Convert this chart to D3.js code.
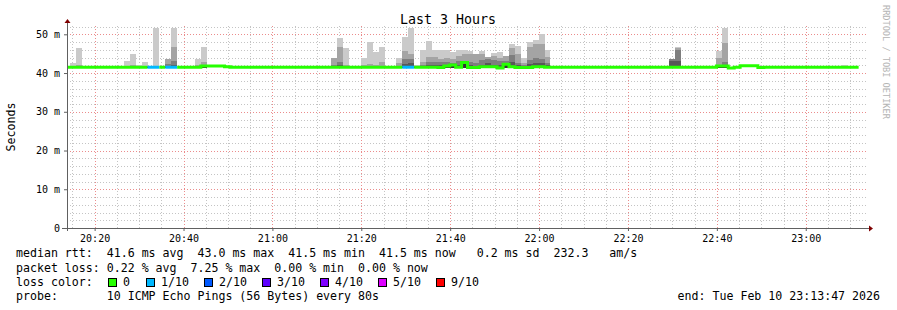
<!DOCTYPE html>
<html>
<head>
<meta charset="utf-8">
<script src="https://cdn.jsdelivr.net/npm/d3@7"></script>
<style>
  body { margin: 0; background: #fff; }
  svg text { font-family: "DejaVu Sans Mono", monospace; white-space: pre; }
</style>
</head>
<body>
<div id="chart"></div>
<script>
// time window of the graph, rrd step is 80s
var startTime = new Date(2026, 1, 10, 20, 13, 47);
var endTime = new Date(2026, 1, 10, 23, 13, 47);
var firstStep = new Date(2026, 1, 10, 20, 13, 14);
var stepSec = 80;

// median rtt per step (ms)
var medianMs = [
  41.5, 41.5, 41.5, 41.5, 41.5, 41.5, 41.5, 41.5, 41.5, 41.5,
  41.5, 41.5, 41.5, 41.5, 41.5, 41.5, 41.5, 41.5, 41.5, 41.5,
  41.5, 41.5, 41.5, 41.8, 41.8, 41.8, 41.8, 41.6, 41.5, 41.5,
  41.5, 41.5, 41.5, 41.5, 41.5, 41.5, 41.5, 41.5, 41.5, 41.5,
  41.5, 41.5, 41.5, 41.5, 41.5, 41.5, 41.5, 41.5, 41.5, 41.5,
  41.5, 41.5, 41.5, 41.5, 41.5, 41.5, 41.5, 41.5, 41.5, 41.5,
  41.5, 41.5, 41.5, 41.4, 41.8, 42.1, 41.5, 42.7, 41.4, 41.4,
  41.6, 41.6, 41.6, 41.3, 42.3, 41.6, 41.4, 41.4, 41.4, 41.6,
  41.6, 41.5, 41.5, 41.5, 41.5, 41.5, 41.5, 41.5, 41.5, 41.5,
  41.5, 41.5, 41.5, 41.5, 41.5, 41.5, 41.5, 41.5, 41.5, 41.5,
  41.5, 41.5, 41.5, 41.5, 41.5, 41.5, 41.5, 41.5, 41.5, 41.5,
  41.8, 41.8, 41.3, 41.5, 41.9, 41.9, 41.9, 41.4, 41.5, 41.5,
  41.5, 41.5, 41.5, 41.5, 41.5, 41.5, 41.5, 41.5, 41.5, 41.5,
  41.5, 41.5, 41.5, 41.5
];

// steps with lost pings (tenths lost)
var lossSteps = [14, 15, 17, 18, 57, 58];
var lossTenths = [1, 1, 1, 1, 1, 1];

// steps with visible smoke and the upper sorted pings (ms)
var smokeSteps = [1, 2, 10, 11, 12, 13, 15, 17, 18, 22, 23,
  45, 46, 47, 50, 51, 52, 53,
  56, 57, 58, 59, 60, 61, 62, 63, 64, 65, 66, 67, 68, 69, 70, 71, 72, 73, 74, 75, 76, 77, 78, 79, 80, 81,
  102, 103, 110, 111, 131];
var ping10 = [42.6, 46.5, 43.1, 44.9, 42.2, 42.8, 51.6, 43.6, 51.6, 43.6, 46.7,
  43.9, 49.1, 46.5, 43.9, 48.0, 45.4, 46.7,
  43.9, 49.3, 51.6, 42.2, 45.9, 48.3, 45.9, 45.9, 45.9, 45.4, 45.9, 45.9, 45.7, 45.0, 45.7, 44.1, 45.1, 45.4, 44.5, 47.5, 47.0, 43.9, 48.0, 48.5, 50.1, 45.9,
  43.7, 46.7, 45.7, 51.6, 42.0];
var ping9 = [41.9, 42.0, 41.8, 42.0, 41.8, 41.9, 41.9, 43.6, 46.7, 42.1, 42.8,
  43.9, 46.7, 42.2, 42.0, 42.3, 42.0, 42.8,
  42.5, 45.7, 44.9, 41.8, 42.8, 44.1, 44.1, 43.7, 43.9, 43.7, 44.5, 45.0, 45.0, 45.0, 45.0, 44.1, 44.5, 43.9, 44.5, 46.5, 44.9, 42.5, 46.7, 47.5, 47.5, 44.1,
  43.6, 46.4, 43.9, 47.8, 41.7];
var ping8 = [41.7, 41.8, 41.7, 41.8, 41.7, 41.7, 41.7, 42.3, 43.1, 41.8, 42.0,
  42.2, 42.8, 41.8, 41.8, 41.9, 41.8, 41.9,
  41.9, 43.5, 43.5, 41.7, 42.0, 42.8, 42.8, 42.8, 42.9, 42.6, 43.0, 43.0, 42.8, 42.5, 43.3, 43.5, 43.3, 43.0, 43.2, 44.6, 42.6, 42.0, 43.3, 43.9, 43.7, 42.6,
  43.5, 46.0, 42.1, 42.8, 41.6];
var ping7 = [41.6, 41.6, 41.6, 41.6, 41.6, 41.6, 41.6, 41.8, 42.0, 41.6, 41.8,
  41.8, 42.0, 41.6, 41.6, 41.7, 41.6, 41.7,
  41.7, 42.3, 42.5, 41.6, 41.7, 42.0, 42.0, 42.0, 42.1, 42.0, 42.2, 42.8, 42.0, 41.9, 42.2, 42.5, 42.2, 42.2, 42.4, 42.8, 42.0, 41.8, 42.3, 42.5, 42.5, 42.0,
  43.1, 43.1, 41.9, 42.2, 41.6];
var pingFloor = 41.3;

var yTicks = [0, 10, 20, 30, 40, 50];
var lossLabels = ["0", "1/10", "2/10", "3/10", "4/10", "5/10", "9/10"];
var lossColors = ["#26ff00", "#00b8ff", "#0059ff", "#5e00ff", "#7e00ff", "#dd00ff", "#ff0000"];
var lossLevels = [0, 1, 2, 3, 4, 5, 9];
var smokeColors = ["#cacaca", "#a4a4a4", "#7e7e7e", "#585858", "#323232"];

var legendLines = [
  "median rtt:  41.6 ms avg  43.0 ms max  41.5 ms min  41.5 ms now   0.2 ms sd  232.3   am/s",
  "packet loss: 0.22 % avg  7.25 % max  0.00 % min  0.00 % now",
  "loss color:",
  "probe:       10 ICMP Echo Pings (56 Bytes) every 80s"
];
var endLabel = "end: Tue Feb 10 23:13:47 2026";

// canvas geometry
var W = 897, H = 310;
var margin = { top: 25, left: 67 },
  plotW = 800, plotH = 203;

var svg = d3.select("#chart").append("svg")
  .attr("width", W).attr("height", H)
  .style("display", "block");

svg.append("rect").attr("width", W).attr("height", H).attr("fill", "#fff");

var g = svg.append("g").attr("transform", "translate(" + margin.left + "," + margin.top + ")");

var x = d3.scaleTime().domain([startTime, endTime]).range([0, plotW]);
var y = d3.scaleLinear().domain([0, 52.4]).range([plotH, 0]);

// grid: minor then major
function grid(axis, color) {
  var gg = g.append("g").call(axis);
  gg.select(".domain").remove();
  gg.selectAll("line")
    .attr("stroke", color)
    .attr("stroke-dasharray", "1,2")
    .attr("shape-rendering", "crispEdges");
  return gg;
}
grid(d3.axisBottom(x).ticks(d3.timeMinute.every(5)).tickSize(-plotH).tickFormat(""), "#c4c4c4")
  .attr("transform", "translate(0," + plotH + ")");
grid(d3.axisLeft(y).tickValues(d3.range(2, 53, 2)).tickSize(-plotW).tickFormat(""), "#c4c4c4");
grid(d3.axisBottom(x).ticks(d3.timeMinute.every(20)).tickSize(-plotH).tickFormat(""), "#eb8c8c")
  .attr("transform", "translate(0," + plotH + ")");
grid(d3.axisLeft(y).tickValues(yTicks.slice(1)).tickSize(-plotW).tickFormat(""), "#eb8c8c");

// clip for data
svg.append("clipPath").attr("id", "plotclip")
  .append("rect").attr("width", plotW).attr("height", plotH);
var data = g.append("g").attr("clip-path", "url(#plotclip)");

function stepTime(i) { return new Date(firstStep.getTime() + i * stepSec * 1000); }

// smoke bands, outer band first
smokeSteps.forEach(function (s, j) {
  var tops = [ping10[j], ping9[j], ping8[j], ping7[j], medianMs[s]];
  var x0 = x(stepTime(s)), x1 = x(stepTime(s + 1));
  tops.forEach(function (t, b) {
    if (t <= pingFloor) return;
    data.append("rect")
      .attr("x", x0).attr("width", x1 - x0)
      .attr("y", y(t)).attr("height", y(pingFloor) - y(t))
      .attr("fill", smokeColors[b])
      .attr("shape-rendering", "crispEdges");
  });
});

// median line coloured by loss
function lossOf(i) {
  var p = lossSteps.indexOf(i);
  return p < 0 ? 0 : lossTenths[p];
}
var runs = [];
medianMs.forEach(function (m, i) {
  var l = lossOf(i);
  if (!runs.length || runs[runs.length - 1].loss !== l) runs.push({ loss: l, pts: [] });
  runs[runs.length - 1].pts.push([stepTime(i), m]);
});
runs.forEach(function (r) {
  var last = r.pts[r.pts.length - 1];
  var pts = r.pts.concat([[new Date(last[0].getTime() + stepSec * 1000), last[1]]]);
  data.append("path")
    .attr("d", d3.line().x(function (d) { return x(d[0]); }).y(function (d) { return y(d[1]); })
      .curve(d3.curveStepAfter)(pts))
    .attr("fill", "none")
    .attr("stroke", lossColors[lossLevels.indexOf(r.loss)])
    .attr("stroke-width", 3);
});

// axes lines and arrows
var axisCol = "#606060", arrowCol = "#7f0000";
g.append("line").attr("x1", -5).attr("x2", plotW + 2).attr("y1", plotH + 0.5).attr("y2", plotH + 0.5)
  .attr("stroke", axisCol);
g.append("line").attr("x1", 0.5).attr("x2", 0.5).attr("y1", plotH + 3).attr("y2", -2)
  .attr("stroke", axisCol);
g.append("path").attr("d", "M-2.5,-2 L3.5,-2 L0.5,-6 Z").attr("fill", arrowCol);
g.append("path").attr("d", "M" + (plotW + 2) + "," + (plotH - 2.5) + " L" + (plotW + 2) + "," + (plotH + 3.5) +
  " L" + (plotW + 6) + "," + (plotH + 0.5) + " Z").attr("fill", arrowCol);

// tick labels
var xl = g.append("g").attr("transform", "translate(0," + plotH + ")")
  .call(d3.axisBottom(x).ticks(d3.timeMinute.every(20)).tickSize(3).tickPadding(4)
    .tickFormat(d3.timeFormat("%H:%M")));
xl.select(".domain").remove();
xl.selectAll("line").attr("stroke", axisCol);
xl.selectAll("text").attr("font-family", "DejaVu Sans Mono").attr("font-size", "10px").attr("fill", "#000");

var yl = g.append("g")
  .call(d3.axisLeft(y).tickValues(yTicks).tickSize(3).tickPadding(4)
    .tickFormat(function (d) { return d === 0 ? "0" : d + " m"; }));
yl.select(".domain").remove();
yl.selectAll("line").attr("stroke", axisCol);
yl.selectAll("text").attr("font-family", "DejaVu Sans Mono").attr("font-size", "10px").attr("fill", "#000");

// title and axis title
svg.append("text").attr("x", 448).attr("y", 24).attr("text-anchor", "middle")
  .style("font-size", "13.3px").text("Last 3 Hours");
svg.append("text").attr("transform", "translate(15,127) rotate(-90)").attr("text-anchor", "middle")
  .style("font-size", "11.6px").text("Seconds");
svg.append("text").attr("transform", "translate(883,5) rotate(90)")
  .style("font-size", "8.6px").attr("fill", "#b4b4b4").text("RRDTOOL / TOBI OETIKER");

// legend
var baseY = [257, 271.5, 285.7, 300];
legendLines.forEach(function (t, i) {
  svg.append("text").attr("x", 16).attr("y", baseY[i]).style("font-size", "11.6px").text(t);
});
lossLabels.forEach(function (lab, i) {
  var bx = 108 + (i === 0 ? 0 : 38 + (i - 1) * 58);
  svg.append("rect").attr("x", bx + 0.5).attr("y", 278.5).attr("width", 8).attr("height", 8)
    .attr("fill", lossColors[i]).attr("stroke", "#000");
  svg.append("text").attr("x", bx + 15).attr("y", baseY[2]).style("font-size", "11.6px").text(lab);
});
svg.append("text").attr("x", 880).attr("y", baseY[3]).attr("text-anchor", "end")
  .style("font-size", "11.6px").text(endLabel);
</script>
</body>
</html>
